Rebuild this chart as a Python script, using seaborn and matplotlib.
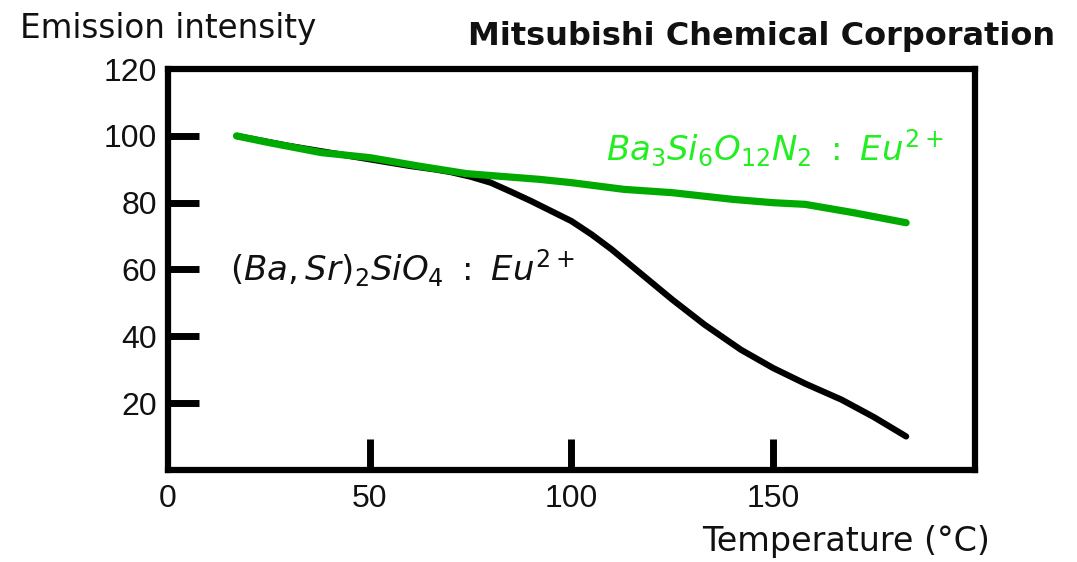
import matplotlib
matplotlib.use("Agg")
import matplotlib.pyplot as plt
import seaborn as sns
import pandas as pd

# Data
green_temp = [17, 25, 38, 50, 62, 74, 92, 100, 113, 125, 140, 150, 158, 170, 183]
green_int = [100, 98, 95, 93.5, 91, 88.7, 87, 86, 84, 83, 81, 80, 79.5, 77, 74]
black_temp = [17, 30, 45, 60, 66, 70, 75, 80, 85, 90, 95, 100, 105, 110, 117, 125,
              133, 142, 150, 158, 167, 175, 183]
black_int = [100, 97, 94, 91, 90, 89.2, 87.8, 86, 83.3, 80.5, 77.5, 74.5, 70.5, 66, 59, 51,
             43.5, 36, 30.5, 25.8, 21, 15.8, 10]

x_ticks = [0, 50, 100, 150]
y_ticks = [20, 40, 60, 80, 100, 120]

green_label = r"$Ba_3Si_6O_{12}N_2\ :\ Eu^{2+}$"
black_label = r"$(Ba,Sr)_2SiO_4\ :\ Eu^{2+}$"

sns.set_theme(style="white")
plt.rcParams["font.family"] = ["DejaVu Sans"]
plt.rcParams["mathtext.fontset"] = "dejavusans"

fig = plt.figure(figsize=(10.77, 5.62), dpi=100)
ax = fig.add_axes([0.156, 0.164, 0.749, 0.713])

df_g = pd.DataFrame({"T": green_temp, "I": green_int})
df_b = pd.DataFrame({"T": black_temp, "I": black_int})
sns.lineplot(data=df_b, x="T", y="I", ax=ax, color="black", linewidth=4.5, sort=False)
sns.lineplot(data=df_g, x="T", y="I", ax=ax, color="#00aa00", linewidth=5.2, sort=False)

ax.set_xlim(0, 200)
ax.set_ylim(0, 120)
ax.set_xticks(x_ticks)
ax.set_yticks(y_ticks)
ax.set_xticklabels([str(v) for v in x_ticks], family="Liberation Sans")
ax.set_yticklabels([str(v) for v in y_ticks], family="Liberation Sans")
ax.tick_params(axis="both", direction="in", length=22, width=5, color="black",
               labelsize=23, labelcolor="#111111", pad=8,
               bottom=True, left=True, top=False, right=False)
ax.tick_params(axis="x", pad=10)
# the ticks at the corners coincide with the frame in the reference
ax.xaxis.get_major_ticks()[0].tick1line.set_visible(False)
ax.yaxis.get_major_ticks()[-1].tick1line.set_visible(False)
for s in ax.spines.values():
    s.set_visible(True)
    s.set_color("black")
    s.set_linewidth(4.5)
ax.set_xlabel("")
ax.set_ylabel("")

ax.text(108.5, 96.4, green_label, color="#22ee22", fontsize=24.5, va="center", ha="left")
ax.text(15.4, 60.4, black_label, color="#111111", fontsize=24.5, va="center", ha="left")

fig.text(0.0186, 0.932, "Emission intensity", fontsize=23.5, color="#111111", va="baseline", ha="left")
fig.text(0.98, 0.92, "Mitsubishi Chemical Corporation", fontsize=23, fontweight="bold",
         color="#111111", va="baseline", ha="right")
fig.text(0.919, 0.02, "Temperature (°C)", fontsize=24, color="#111111", va="baseline", ha="right")

fig.savefig("out.png", dpi=100, facecolor="white")
